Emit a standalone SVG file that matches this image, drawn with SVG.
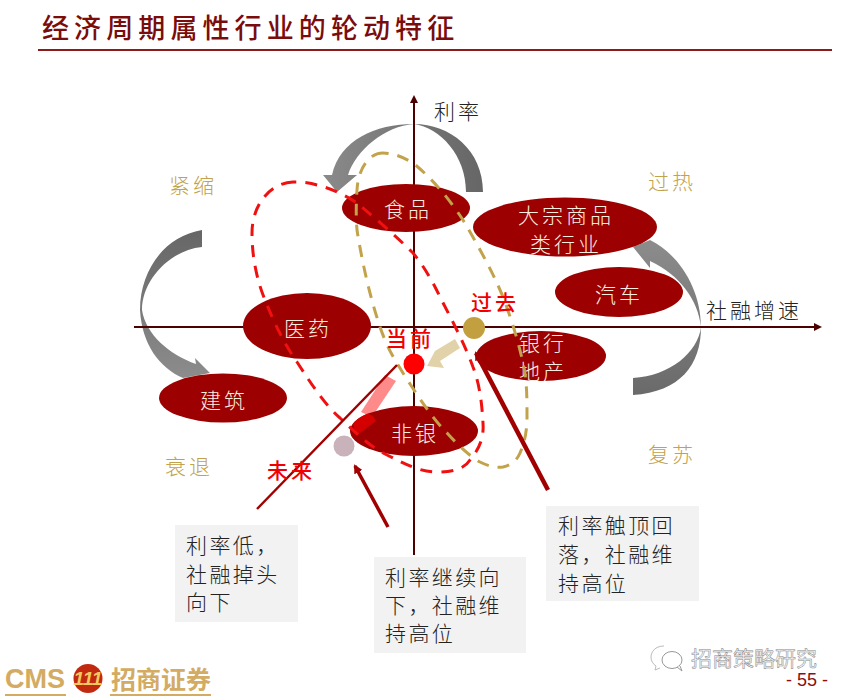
<svg xmlns="http://www.w3.org/2000/svg" width="845" height="696" viewBox="0 0 845 696">
<style>
text{font-family:"Noto Sans CJK SC","Noto Sans",sans-serif;font-weight:300}
.n{fill:#9c0000}
.nt{fill:#fdeee0;font-size:21px;letter-spacing:3px;text-anchor:middle}
.g{fill:#c2a24a;font-size:21px;letter-spacing:3px}
.k{fill:#222;font-size:21px;letter-spacing:3px}
.r{fill:#f00000;font-size:21px;letter-spacing:3px;font-weight:500}
.b{fill:#222;font-size:21px;letter-spacing:2.400px}
.box{fill:#f2f2f2}
.ax{stroke:#4d0000;stroke-width:2;fill:none}
.dash{fill:none;stroke-width:3;stroke-dasharray:12 9}
</style>
<defs>
<marker id="ah" markerWidth="8" markerHeight="8" refX="6" refY="4" orient="auto" markerUnits="userSpaceOnUse"><path d="M0,0L8,4L0,8Z" fill="#4d0000"/></marker>
<marker id="rh" markerWidth="9" markerHeight="9" refX="7" refY="4.500" orient="auto-start-reverse" markerUnits="userSpaceOnUse"><path d="M0,0L9,4.500L0,9Z" fill="#a00000"/></marker>
<linearGradient id="g1" x1="0" x2="1" y1="0" y2="0"><stop offset="0" stop-color="#8a8a8a"/><stop offset="1" stop-color="#666"/></linearGradient>
<linearGradient id="g2" x1="0" x2="0" y1="0" y2="1"><stop offset="0" stop-color="#666"/><stop offset="1" stop-color="#8c8c8c"/></linearGradient>
<linearGradient id="g3" x1="0" x2="0" y1="0" y2="1"><stop offset="0" stop-color="#8c8c8c"/><stop offset="1" stop-color="#6a6a6a"/></linearGradient>
<clipPath id="inNonbank"><ellipse cx="414" cy="431" rx="64" ry="25"/></clipPath>
</defs>

<g id="title">
<text x="42" y="38" style="font-size:27px;letter-spacing:5.100px;font-weight:500;fill:#7a0c0c">经济周期属性行业的轮动特征</text>
<rect x="38" y="49" width="794" height="2" fill="#8c1a1a"/>
</g>

<g id="cycle-arrows">
<path d="M483,192C483,150 450,124 414,124C375,124 340,140 332,175L323,175L337,192L357,175L348,175C356,150 385,126 414,124C440,128 466,155 466,192Z" fill="url(#g1)"/>
<path d="M202,230C165,236 140,270 140,310C142,345 160,368 183,378L210,373L195,358L196,364C170,355 146,335 142,310C142,280 170,250 202,247Z" fill="url(#g2)"/>
<path d="M633,395C680,392 701,365 701,327C701,290 680,255 650,240L633,247L650,268L650,261C680,275 698,300 701,327C698,352 670,376 633,378Z" fill="url(#g3)"/>
</g>

<g id="axes">
<path class="ax" d="M134,327H820" marker-end="url(#ah)"/>
<path class="ax" d="M414,555V97" marker-end="url(#ah)"/>
</g>

<polygon id="future-arrow-shaft" points="385,375 396,381 372,417 361,412" fill="#ff8a8a"/>

<g id="node-food"><ellipse class="n" cx="406" cy="208" rx="64" ry="24"/><text class="nt" x="408" y="217">食品</text></g>
<g id="node-commodity"><ellipse class="n" cx="565" cy="227" rx="92" ry="29.500"/><text class="nt" x="566" y="223">大宗商品</text><text class="nt" x="566" y="252">类行业</text></g>
<g id="node-auto"><ellipse class="n" cx="619" cy="292" rx="64" ry="25"/><text class="nt" x="619" y="302">汽车</text></g>
<g id="node-bank"><ellipse class="n" cx="541" cy="356" rx="65" ry="25"/><text class="nt" x="543" y="351">银行</text><text class="nt" x="543" y="379">地产</text></g>
<g id="node-pharma"><ellipse class="n" cx="307" cy="326" rx="64" ry="33"/><text class="nt" x="308" y="336">医药</text></g>
<g id="node-construction"><ellipse class="n" cx="223" cy="398" rx="64" ry="24.500"/><text class="nt" x="224" y="408">建筑</text></g>
<g id="node-nonbank"><ellipse class="n" cx="414" cy="431" rx="64" ry="25"/><polygon points="361,410 373,416 376,421 356,436 352,420" fill="#d40000" clip-path="url(#inNonbank)"/><text class="nt" x="415" y="441">非银</text></g>

<g id="connectors">
<path class="dash" stroke="#f01010" d="M293,182C270,183 252,205 252,233C252,260 258,283 265,300C275,325 285,345 297,362C312,385 325,405 340,418C355,432 370,447 387,455C405,464 420,472 437,472C455,472 465,468 470,460C480,448 484,437 483,423C482,405 480,385 473,367C465,345 452,320 440,297C432,280 423,265 413,253C395,235 375,218 357,203C345,195 330,188 317,185C308,182 300,182 293,182Z"/>
<path class="dash" stroke="#c2a24a" d="M383,153C368,153 358,170 357,190C356,205 356,218 357,230C362,262 370,297 380,327C388,350 395,360 403,373C417,395 432,418 447,433C458,445 468,455 480,462C490,467 497,468 503,467C512,465 517,460 520,453C525,442 527,430 527,417C527,398 527,380 523,363C518,340 511,318 503,297L497,283C487,262 475,240 463,220C450,200 432,178 413,163C403,157 393,153 383,153Z"/>
<polygon points="455,339 460,348 440,361 444,368 427,366 435,351" fill="#e2d2aa"/>
<path d="M397,365L257,509" stroke="#a00000" stroke-width="2.500" fill="none"/>
<path d="M388,527L355,466" stroke="#a00000" stroke-width="3.500" fill="none" marker-end="url(#rh)"/>
<path d="M548,490L476,353" stroke="#a00000" stroke-width="4.500" fill="none" marker-end="url(#rh)"/>
</g>

<g id="markers">
<circle cx="474" cy="328" r="11" fill="#c2a040"/>
<circle cx="414" cy="364" r="10.500" fill="#ff0000"/>
<circle cx="344" cy="446" r="10.500" fill="#c9b2ba"/>
</g>

<g id="labels">
<text class="k" x="434" y="119">利率</text>
<text class="g" x="169" y="193">紧缩</text>
<text class="g" x="648" y="189">过热</text>
<text class="g" x="165" y="474">衰退</text>
<text class="g" x="648" y="462">复苏</text>
<text class="k" x="706" y="318">社融增速</text>
<text class="r" x="471" y="310">过去</text>
<text class="r" x="386" y="346">当前</text>
<text class="r" x="267" y="478">未来</text>
</g>

<g id="note-low">
<rect class="box" x="175" y="525" width="123" height="97"/>
<text class="b" x="186" y="553">利率低，</text><text class="b" x="186" y="582">社融掉头</text><text class="b" x="186" y="610">向下</text>
</g>
<g id="note-down">
<rect class="box" x="374" y="557" width="152" height="96"/>
<text class="b" x="385" y="585">利率继续向</text><text class="b" x="385" y="613">下，社融维</text><text class="b" x="385" y="641">持高位</text>
</g>
<g id="note-top">
<rect class="box" x="546" y="506" width="153" height="95"/>
<text class="b" x="558" y="533">利率触顶回</text><text class="b" x="558" y="562">落，社融维</text><text class="b" x="558" y="591">持高位</text>
</g>

<g id="logo">
<text x="5" y="688" style="font-family:'Liberation Sans',sans-serif;font-size:27px;font-weight:700;fill:#d3ab62">CMS</text>
<circle cx="88" cy="678.500" r="14.500" fill="#c22a10"/>
<text x="88" y="685" text-anchor="middle" style="font-family:'Liberation Sans',sans-serif;font-size:19px;font-weight:700;font-style:italic;fill:#f4c860">111</text>
<text x="111" y="689" style="font-size:25px;font-weight:700;fill:#d3ab62">招商证券</text>
<rect x="5" y="694" width="61" height="2" fill="#d3ab62"/>
<rect x="110" y="694" width="101" height="2" fill="#d3ab62"/>
</g>

<g id="watermark">
<path d="M664,646C655,646 651,652 651,657C651,661 653,664 656,666L655,670L660,668" fill="none" stroke="#bbb"/>
<ellipse cx="672" cy="660" rx="10" ry="8.500" fill="#fff" stroke="#999"/>
<path d="M677,667L682,671L680,666" fill="#fff" stroke="#999"/>
<text x="691" y="666" style="font-size:21px;font-weight:400;fill:#f6f6f6;stroke:#888;stroke-width:.5px">招商策略研究</text>
</g>
<text id="page" x="786" y="686" style="font-family:'Liberation Sans',sans-serif;font-size:18px;font-weight:400;fill:#8c1010">- 55 -</text>
</svg>
